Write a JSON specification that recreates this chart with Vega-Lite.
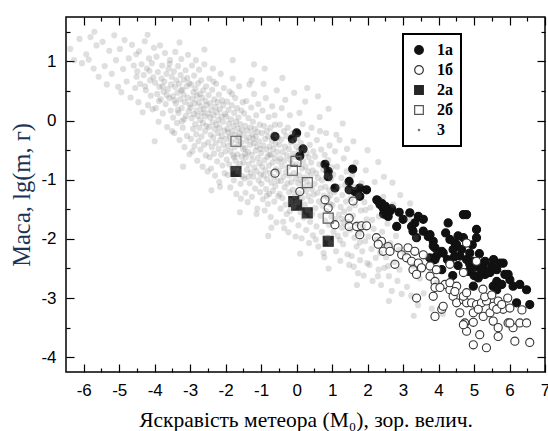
{
"$schema": "https://vega.github.io/schema/vega-lite/v6.json",
"width": 479, "height": 355,
"autosize": {"type": "none"},
"padding": {"left": 66, "top": 17, "right": 3, "bottom": 59},
"background": "white",
"config": {
 "view": {"stroke": "#000", "strokeWidth": 1.5},
 "axis": {"domain": false, "grid": false, "tickColor": "#000", "tickWidth": 1.2, "labelFont": "Liberation Sans", "labelFontSize": 17, "labelColor": "#000", "titleFont": "Liberation Serif", "titleFontSize": 21.5, "titleFontWeight": "normal", "titleColor": "#000", "labelFlush": false, "labelOverlap": false},
 "legend": {"orient": "none", "legendX": 337, "legendY": 17, "strokeColor": "#000", "strokeWidth": 2, "fillColor": "#fff", "padding": 8, "rowPadding": 4, "labelFont": "Liberation Serif", "labelFontWeight": "bold", "labelFontSize": 16, "labelColor": "#000", "symbolStrokeWidth": 1.2, "symbolSize": 75, "labelOffset": 10}
},
"datasets": {
"markers": [
{"x":-0.61,"y":-0.27,"g":"1а"},{"x":0.0,"y":-0.21,"g":"1а"},{"x":-0.12,"y":-0.31,"g":"1а"},{"x":0.18,"y":-0.48,"g":"1а"},{"x":0.09,"y":-0.6,"g":"1а"},{"x":0.8,"y":-0.74,"g":"1а"},{"x":0.89,"y":-0.86,"g":"1а"},{"x":0.89,"y":-0.95,"g":"1а"},{"x":1.08,"y":-1.14,"g":"1а"},{"x":1.48,"y":-1.03,"g":"1а"},{"x":1.48,"y":-1.17,"g":"1а"},{"x":1.58,"y":-0.82,"g":"1а"},{"x":1.64,"y":-1.2,"g":"1а"},{"x":1.78,"y":-1.14,"g":"1а"},{"x":1.97,"y":-1.17,"g":"1а"},{"x":1.78,"y":-1.28,"g":"1а"},{"x":2.26,"y":-1.34,"g":"1а"},{"x":2.3,"y":-1.36,"g":"1а"},{"x":2.4,"y":-1.4,"g":"1а"},{"x":2.35,"y":-1.42,"g":"1а"},{"x":2.44,"y":-1.48,"g":"1а"},{"x":2.5,"y":-1.45,"g":"1а"},{"x":2.63,"y":-1.53,"g":"1а"},{"x":2.68,"y":-1.49,"g":"1а"},{"x":2.89,"y":-1.55,"g":"1а"},{"x":2.58,"y":-1.62,"g":"1а"},{"x":2.45,"y":-1.58,"g":"1а"},{"x":3.19,"y":-1.56,"g":"1а"},{"x":3.0,"y":-1.67,"g":"1а"},{"x":3.43,"y":-1.62,"g":"1а"},{"x":3.57,"y":-1.67,"g":"1а"},{"x":3.33,"y":-1.73,"g":"1а"},{"x":3.24,"y":-1.79,"g":"1а"},{"x":2.82,"y":-1.79,"g":"1а"},{"x":3.28,"y":-1.87,"g":"1а"},{"x":3.57,"y":-1.87,"g":"1а"},{"x":3.38,"y":-1.98,"g":"1а"},{"x":3.71,"y":-1.96,"g":"1а"},{"x":3.76,"y":-1.93,"g":"1а"},{"x":3.85,"y":-2.04,"g":"1а"},{"x":3.9,"y":-2.15,"g":"1а"},{"x":3.75,"y":-2.32,"g":"1а"},{"x":3.94,"y":-2.29,"g":"1а"},{"x":4.27,"y":-1.73,"g":"1а"},{"x":4.7,"y":-1.59,"g":"1а"},{"x":4.79,"y":-1.59,"g":"1а"},{"x":5.07,"y":-1.84,"g":"1а"},{"x":5.07,"y":-1.98,"g":"1а"},{"x":3.85,"y":-2.12,"g":"1а"},{"x":4.32,"y":-2.01,"g":"1а"},{"x":4.46,"y":-2.07,"g":"1а"},{"x":4.51,"y":-2.1,"g":"1а"},{"x":4.7,"y":-1.98,"g":"1а"},{"x":4.41,"y":-2.18,"g":"1а"},{"x":4.6,"y":-2.29,"g":"1а"},{"x":4.79,"y":-2.35,"g":"1а"},{"x":4.09,"y":-2.52,"g":"1а"},{"x":4.32,"y":-2.41,"g":"1а"},{"x":4.88,"y":-2.43,"g":"1а"},{"x":5.02,"y":-2.47,"g":"1а"},{"x":5.26,"y":-2.49,"g":"1а"},{"x":5.31,"y":-2.6,"g":"1а"},{"x":5.12,"y":-2.66,"g":"1а"},{"x":5.45,"y":-2.57,"g":"1а"},{"x":5.64,"y":-2.52,"g":"1а"},{"x":5.82,"y":-2.41,"g":"1а"},{"x":5.87,"y":-2.6,"g":"1а"},{"x":6.01,"y":-2.69,"g":"1а"},{"x":5.64,"y":-2.72,"g":"1а"},{"x":4.98,"y":-2.8,"g":"1а"},{"x":5.54,"y":-2.8,"g":"1а"},{"x":5.64,"y":-2.86,"g":"1а"},{"x":6.1,"y":-2.8,"g":"1а"},{"x":6.29,"y":-2.77,"g":"1а"},{"x":6.48,"y":-2.86,"g":"1а"},{"x":6.2,"y":-3.08,"g":"1а"},{"x":6.57,"y":-3.11,"g":"1а"},{"x":4.09,"y":-2.21,"g":"1а"},{"x":3.9,"y":-2.35,"g":"1а"},{"x":4.13,"y":-2.24,"g":"1а"},{"x":4.88,"y":-2.24,"g":"1а"},{"x":4.98,"y":-2.38,"g":"1а"},{"x":5.21,"y":-2.43,"g":"1а"},{"x":5.31,"y":-2.38,"g":"1а"},{"x":5.5,"y":-2.46,"g":"1а"},{"x":5.73,"y":-2.41,"g":"1а"},{"x":5.96,"y":-2.6,"g":"1а"},{"x":5.78,"y":-2.77,"g":"1а"},{"x":5.4,"y":-2.57,"g":"1а"},{"x":4.45,"y":-2.3,"g":"1а"},{"x":4.55,"y":-2.45,"g":"1а"},{"x":4.65,"y":-2.18,"g":"1а"},{"x":4.85,"y":-2.55,"g":"1а"},{"x":5.15,"y":-2.25,"g":"1а"},{"x":5.2,"y":-2.55,"g":"1а"},{"x":4.4,"y":-2.62,"g":"1а"},{"x":5.0,"y":-2.62,"g":"1а"},{"x":5.55,"y":-2.35,"g":"1а"},{"x":4.95,"y":-2.1,"g":"1а"},{"x":4.25,"y":-2.35,"g":"1а"},{"x":4.2,"y":-1.9,"g":"1а"},{"x":4.55,"y":-1.95,"g":"1а"},
{"x":-0.61,"y":-0.89,"g":"1б"},{"x":0.09,"y":-1.2,"g":"1б"},{"x":0.8,"y":-1.34,"g":"1б"},{"x":0.89,"y":-1.48,"g":"1б"},{"x":1.08,"y":-1.76,"g":"1б"},{"x":1.48,"y":-1.65,"g":"1б"},{"x":1.48,"y":-1.79,"g":"1б"},{"x":1.59,"y":-1.36,"g":"1б"},{"x":1.69,"y":-1.79,"g":"1б"},{"x":1.83,"y":-1.78,"g":"1б"},{"x":1.97,"y":-1.78,"g":"1б"},{"x":1.78,"y":-1.93,"g":"1б"},{"x":2.25,"y":-1.98,"g":"1б"},{"x":2.39,"y":-2.04,"g":"1б"},{"x":2.3,"y":-2.09,"g":"1б"},{"x":2.58,"y":-2.13,"g":"1б"},{"x":2.44,"y":-2.21,"g":"1б"},{"x":2.63,"y":-2.21,"g":"1б"},{"x":2.86,"y":-2.15,"g":"1б"},{"x":2.96,"y":-2.27,"g":"1б"},{"x":3.14,"y":-2.15,"g":"1б"},{"x":3.1,"y":-2.32,"g":"1б"},{"x":3.33,"y":-2.21,"g":"1б"},{"x":3.24,"y":-2.38,"g":"1б"},{"x":2.77,"y":-2.43,"g":"1б"},{"x":3.43,"y":-2.41,"g":"1б"},{"x":3.52,"y":-2.49,"g":"1б"},{"x":3.76,"y":-2.46,"g":"1б"},{"x":3.28,"y":-2.52,"g":"1б"},{"x":3.38,"y":-2.6,"g":"1б"},{"x":3.76,"y":-2.63,"g":"1б"},{"x":3.9,"y":-2.72,"g":"1б"},{"x":3.94,"y":-2.52,"g":"1б"},{"x":3.57,"y":-2.27,"g":"1б"},{"x":3.9,"y":-2.82,"g":"1б"},{"x":4.18,"y":-2.77,"g":"1б"},{"x":4.32,"y":-2.86,"g":"1б"},{"x":4.41,"y":-2.97,"g":"1б"},{"x":3.38,"y":-3.0,"g":"1б"},{"x":4.09,"y":-3.19,"g":"1б"},{"x":3.9,"y":-3.31,"g":"1б"},{"x":4.51,"y":-3.08,"g":"1б"},{"x":4.7,"y":-3.03,"g":"1б"},{"x":4.79,"y":-3.08,"g":"1б"},{"x":4.6,"y":-3.25,"g":"1б"},{"x":4.93,"y":-3.08,"g":"1б"},{"x":5.07,"y":-3.11,"g":"1б"},{"x":5.21,"y":-3.08,"g":"1б"},{"x":4.98,"y":-3.25,"g":"1б"},{"x":5.12,"y":-3.19,"g":"1б"},{"x":5.26,"y":-3.31,"g":"1б"},{"x":5.45,"y":-3.25,"g":"1б"},{"x":5.35,"y":-3.05,"g":"1б"},{"x":5.54,"y":-3.14,"g":"1б"},{"x":5.68,"y":-3.05,"g":"1б"},{"x":5.82,"y":-3.19,"g":"1б"},{"x":5.54,"y":-3.39,"g":"1б"},{"x":5.68,"y":-3.5,"g":"1б"},{"x":4.74,"y":-3.42,"g":"1б"},{"x":4.79,"y":-3.56,"g":"1б"},{"x":5.96,"y":-3.42,"g":"1б"},{"x":6.1,"y":-3.5,"g":"1б"},{"x":6.29,"y":-3.42,"g":"1б"},{"x":6.48,"y":-3.42,"g":"1б"},{"x":5.16,"y":-3.62,"g":"1б"},{"x":5.68,"y":-3.65,"g":"1б"},{"x":4.98,"y":-3.79,"g":"1б"},{"x":5.35,"y":-3.84,"g":"1б"},{"x":6.15,"y":-3.73,"g":"1б"},{"x":6.57,"y":-3.75,"g":"1б"},{"x":4.79,"y":-2.07,"g":"1б"},{"x":5.07,"y":-2.38,"g":"1б"},{"x":4.7,"y":-2.57,"g":"1б"},{"x":4.32,"y":-2.43,"g":"1б"},{"x":4.32,"y":-2.74,"g":"1б"},{"x":4.51,"y":-2.8,"g":"1б"},{"x":4.04,"y":-2.82,"g":"1б"},{"x":4.46,"y":-2.89,"g":"1б"},{"x":4.7,"y":-2.97,"g":"1б"},{"x":4.79,"y":-2.91,"g":"1б"},{"x":5.3,"y":-2.98,"g":"1б"},{"x":5.64,"y":-3.19,"g":"1б"},{"x":5.78,"y":-3.11,"g":"1б"},{"x":6.01,"y":-3.17,"g":"1б"},{"x":3.85,"y":-2.97,"g":"1б"},{"x":4.13,"y":-3.14,"g":"1б"},{"x":4.7,"y":-3.45,"g":"1б"},{"x":4.98,"y":-3.41,"g":"1б"},{"x":6.01,"y":-3.42,"g":"1б"},{"x":5.25,"y":-2.85,"g":"1б"},{"x":5.5,"y":-2.95,"g":"1б"},{"x":6.35,"y":-3.2,"g":"1б"},{"x":5.95,"y":-3.0,"g":"1б"},
{"x":-1.71,"y":-0.86,"g":"2а"},{"x":-0.08,"y":-1.37,"g":"2а"},{"x":0.0,"y":-1.43,"g":"2а"},{"x":0.3,"y":-1.56,"g":"2а"},{"x":0.89,"y":-2.04,"g":"2а"},
{"x":-1.71,"y":-0.35,"g":"2б"},{"x":-0.02,"y":-0.69,"g":"2б"},{"x":-0.12,"y":-0.84,"g":"2б"},{"x":0.3,"y":-1.05,"g":"2б"},{"x":0.89,"y":-1.65,"g":"2б"}
],
"cloud": [
{"x":-6.38,"y":1.21},{"x":-6.12,"y":1.38},{"x":-6.05,"y":0.97},{"x":-6.27,"y":1.02},
{"x":-5.93,"y":1.12},{"x":-5.81,"y":1.41},{"x":-5.72,"y":0.88},{"x":-5.64,"y":1.27},{"x":-5.58,"y":0.74},{"x":-5.86,"y":1.03},
{"x":-5.47,"y":1.33},{"x":-5.41,"y":0.92},{"x":-5.35,"y":0.61},{"x":-5.28,"y":1.18},{"x":-5.21,"y":0.79},{"x":-5.14,"y":1.44},{"x":-5.09,"y":1.02},{"x":-5.03,"y":0.57},
{"x":-4.98,"y":1.21},{"x":-4.94,"y":0.48},{"x":-4.89,"y":0.87},{"x":-4.85,"y":1.36},{"x":-4.79,"y":0.66},{"x":-4.73,"y":1.05},{"x":-4.68,"y":0.39},{"x":-4.64,"y":1.28},{"x":-4.59,"y":0.93},{"x":-4.55,"y":0.55},{"x":-4.52,"y":1.12},{"x":-4.51,"y":0.74},
{"x":-4.49,"y":0.83},{"x":-4.46,"y":0.31},{"x":-4.44,"y":1.17},{"x":-4.41,"y":0.62},{"x":-4.37,"y":0.95},{"x":-4.34,"y":0.14},{"x":-4.31,"y":0.77},{"x":-4.28,"y":1.34},{"x":-4.25,"y":0.51},{"x":-4.22,"y":0.88},{"x":-4.19,"y":0.26},{"x":-4.16,"y":1.05},{"x":-4.13,"y":0.68},{"x":-4.11,"y":0.42},{"x":-4.08,"y":0.97},{"x":-4.06,"y":0.19},{"x":-4.04,"y":0.73},{"x":-4.02,"y":1.23},{"x":-4.27,"y":0.58},{"x":-4.15,"y":0.84},
{"x":-3.99,"y":0.64},{"x":-3.97,"y":0.21},{"x":-3.95,"y":1.08},{"x":-3.93,"y":0.45},{"x":-3.91,"y":0.82},{"x":-3.89,"y":-0.02},{"x":-3.87,"y":0.57},{"x":-3.85,"y":1.27},{"x":-3.83,"y":0.36},{"x":-3.81,"y":0.71},{"x":-3.79,"y":0.93},{"x":-3.77,"y":0.12},{"x":-3.75,"y":0.49},{"x":-3.73,"y":0.66},{"x":-3.71,"y":1.14},{"x":-3.69,"y":0.28},{"x":-3.67,"y":0.79},{"x":-3.65,"y":-0.11},{"x":-3.63,"y":0.53},{"x":-3.61,"y":0.88},{"x":-3.59,"y":0.38},{"x":-3.57,"y":1.02},{"x":-3.55,"y":0.17},{"x":-3.54,"y":0.61},{"x":-3.52,"y":0.74},{"x":-3.51,"y":-0.18},{"x":-3.66,"y":0.43},{"x":-3.78,"y":0.58},{"x":-3.88,"y":0.33},{"x":-3.58,"y":0.96},
{"x":-3.49,"y":0.41},{"x":-3.48,"y":0.05},{"x":-3.46,"y":0.83},{"x":-3.45,"y":-0.21},{"x":-3.43,"y":0.57},{"x":-3.42,"y":1.16},{"x":-3.4,"y":0.29},{"x":-3.39,"y":0.68},{"x":-3.37,"y":-0.04},{"x":-3.36,"y":0.47},{"x":-3.34,"y":0.92},{"x":-3.33,"y":0.13},{"x":-3.31,"y":0.62},{"x":-3.3,"y":-0.33},{"x":-3.28,"y":0.36},{"x":-3.27,"y":0.77},{"x":-3.25,"y":1.04},{"x":-3.24,"y":0.21},{"x":-3.22,"y":0.52},{"x":-3.21,"y":-0.12},{"x":-3.19,"y":0.44},{"x":-3.18,"y":0.69},{"x":-3.16,"y":-0.45},{"x":-3.15,"y":0.31},{"x":-3.13,"y":0.85},{"x":-3.12,"y":0.08},{"x":-3.1,"y":0.58},{"x":-3.09,"y":-0.26},{"x":-3.07,"y":0.39},{"x":-3.06,"y":1.11},{"x":-3.04,"y":0.16},{"x":-3.03,"y":0.63},{"x":-3.02,"y":-0.57},{"x":-3.01,"y":0.27},{"x":-3.44,"y":0.34},{"x":-3.35,"y":0.18},{"x":-3.26,"y":0.51},{"x":-3.17,"y":0.02},{"x":-3.08,"y":0.72},{"x":-3.23,"y":-0.01},
{"x":-2.99,"y":0.22},{"x":-2.98,"y":-0.31},{"x":-2.97,"y":0.61},{"x":-2.96,"y":0.04},{"x":-2.95,"y":0.93},{"x":-2.94,"y":-0.52},{"x":-2.93,"y":0.37},{"x":-2.92,"y":-0.14},{"x":-2.91,"y":0.48},{"x":-2.9,"y":0.11},{"x":-2.89,"y":0.76},{"x":-2.88,"y":-0.43},{"x":-2.87,"y":0.29},{"x":-2.86,"y":-0.06},{"x":-2.85,"y":0.54},{"x":-2.84,"y":1.02},{"x":-2.83,"y":-0.23},{"x":-2.82,"y":0.17},{"x":-2.81,"y":0.42},{"x":-2.8,"y":-0.68},{"x":-2.79,"y":0.08},{"x":-2.78,"y":0.63},{"x":-2.77,"y":-0.35},{"x":-2.76,"y":0.31},{"x":-2.75,"y":0.86},{"x":-2.74,"y":-0.12},{"x":-2.73,"y":0.45},{"x":-2.72,"y":0.01},{"x":-2.71,"y":-0.49},{"x":-2.7,"y":0.24},{"x":-2.69,"y":0.68},{"x":-2.68,"y":-0.27},{"x":-2.67,"y":0.13},{"x":-2.66,"y":0.39},{"x":-2.65,"y":-0.78},{"x":-2.64,"y":-0.04},{"x":-2.63,"y":0.51},{"x":-2.62,"y":0.19},{"x":-2.61,"y":-0.41},{"x":-2.6,"y":0.95},{"x":-2.59,"y":0.07},{"x":-2.58,"y":-0.18},{"x":-2.57,"y":0.33},{"x":-2.56,"y":-0.59},{"x":-2.55,"y":0.58},{"x":-2.54,"y":-0.09},{"x":-2.53,"y":0.26},{"x":-2.51,"y":-0.86},
{"x":-2.5,"y":0.12},{"x":-2.49,"y":-0.37},{"x":-2.48,"y":0.43},{"x":-2.47,"y":-0.11},{"x":-2.46,"y":0.71},{"x":-2.45,"y":-0.62},{"x":-2.44,"y":0.05},{"x":-2.43,"y":0.29},{"x":-2.42,"y":-0.24},{"x":-2.41,"y":-0.81},{"x":-2.4,"y":0.18},{"x":-2.39,"y":-0.45},{"x":-2.38,"y":0.52},{"x":-2.37,"y":-0.03},{"x":-2.36,"y":0.88},{"x":-2.35,"y":-0.29},{"x":-2.34,"y":0.09},{"x":-2.33,"y":-0.56},{"x":-2.32,"y":0.36},{"x":-2.31,"y":-0.14},{"x":-2.3,"y":-0.93},{"x":-2.29,"y":0.23},{"x":-2.28,"y":-0.38},{"x":-2.27,"y":0.62},{"x":-2.26,"y":-0.07},{"x":-2.25,"y":0.14},{"x":-2.24,"y":-0.69},{"x":-2.23,"y":0.31},{"x":-2.22,"y":-0.21},{"x":-2.21,"y":0.01},{"x":-2.2,"y":-0.48},{"x":-2.19,"y":0.44},{"x":-2.18,"y":-1.04},{"x":-2.17,"y":-0.12},{"x":-2.16,"y":0.19},{"x":-2.15,"y":-0.33},{"x":-2.14,"y":0.79},{"x":-2.13,"y":-0.58},{"x":-2.12,"y":0.07},{"x":-2.11,"y":-0.26},{"x":-2.1,"y":0.34},{"x":-2.09,"y":-0.76},{"x":-2.08,"y":-0.02},{"x":-2.07,"y":0.26},{"x":-2.06,"y":-0.41},{"x":-2.05,"y":0.55},{"x":-2.04,"y":-0.17},{"x":-2.03,"y":-0.89},{"x":-2.02,"y":0.11},{"x":-2.01,"y":-0.52},{"x":-2.34,"y":0.66},{"x":-2.16,"y":-1.12},
{"x":-1.99,"y":-0.31},{"x":-1.98,"y":0.07},{"x":-1.97,"y":-0.66},{"x":-1.96,"y":0.32},{"x":-1.95,"y":-0.14},{"x":-1.94,"y":-0.92},{"x":-1.93,"y":-0.43},{"x":-1.92,"y":0.18},{"x":-1.91,"y":-0.05},{"x":-1.9,"y":-0.74},{"x":-1.89,"y":0.49},{"x":-1.88,"y":-0.27},{"x":-1.87,"y":-1.13},{"x":-1.86,"y":-0.52},{"x":-1.85,"y":0.02},{"x":-1.84,"y":-0.36},{"x":-1.83,"y":0.26},{"x":-1.82,"y":-0.81},{"x":-1.81,"y":-0.18},{"x":-1.8,"y":0.71},{"x":-1.79,"y":-0.59},{"x":-1.78,"y":-0.09},{"x":-1.77,"y":-1.01},{"x":-1.76,"y":0.13},{"x":-1.75,"y":-0.45},{"x":-1.74,"y":-0.24},{"x":-1.73,"y":0.38},{"x":-1.72,"y":-0.68},{"x":-1.71,"y":-0.02},{"x":-1.7,"y":-1.24},{"x":-1.69,"y":-0.33},{"x":-1.68,"y":0.21},{"x":-1.67,"y":-0.57},{"x":-1.66,"y":-0.13},{"x":-1.65,"y":-0.86},{"x":-1.64,"y":0.05},{"x":-1.63,"y":-0.41},{"x":-1.62,"y":0.58},{"x":-1.61,"y":-0.21},{"x":-1.6,"y":-0.73},{"x":-1.59,"y":-0.06},{"x":-1.58,"y":-1.07},{"x":-1.57,"y":-0.37},{"x":-1.56,"y":0.17},{"x":-1.55,"y":-0.61},{"x":-1.54,"y":-0.16},{"x":-1.53,"y":-0.94},{"x":-1.52,"y":0.31},{"x":-1.51,"y":-0.48},{"x":-1.82,"y":0.45},{"x":-1.69,"y":-0.79},{"x":-1.57,"y":-1.32},{"x":-1.93,"y":-0.2},{"x":-1.76,"y":-0.62},{"x":-1.64,"y":-0.28},
{"x":-1.5,"y":-0.71},{"x":-1.49,"y":-0.25},{"x":-1.48,"y":0.12},{"x":-1.47,"y":-0.98},{"x":-1.46,"y":-0.46},{"x":-1.45,"y":-0.09},{"x":-1.44,"y":-1.22},{"x":-1.43,"y":-0.62},{"x":-1.42,"y":0.33},{"x":-1.41,"y":-0.34},{"x":-1.4,"y":-0.83},{"x":-1.39,"y":-0.17},{"x":-1.38,"y":-1.38},{"x":-1.37,"y":-0.53},{"x":-1.36,"y":0.04},{"x":-1.35,"y":-0.74},{"x":-1.34,"y":-0.29},{"x":-1.33,"y":0.61},{"x":-1.32,"y":-1.06},{"x":-1.31,"y":-0.41},{"x":-1.3,"y":-0.12},{"x":-1.29,"y":-0.88},{"x":-1.28,"y":0.22},{"x":-1.27,"y":-0.58},{"x":-1.26,"y":-1.29},{"x":-1.25,"y":-0.23},{"x":-1.24,"y":-0.67},{"x":-1.23,"y":-0.02},{"x":-1.22,"y":-0.95},{"x":-1.21,"y":-0.38},{"x":-1.2,"y":0.45},{"x":-1.19,"y":-0.79},{"x":-1.18,"y":-0.14},{"x":-1.17,"y":-1.15},{"x":-1.16,"y":-0.51},{"x":-1.15,"y":-0.27},{"x":-1.14,"y":0.09},{"x":-1.13,"y":-0.86},{"x":-1.12,"y":-0.44},{"x":-1.11,"y":-1.49},{"x":-1.1,"y":-0.19},{"x":-1.09,"y":-0.63},{"x":-1.08,"y":0.28},{"x":-1.07,"y":-1.01},{"x":-1.06,"y":-0.35},{"x":-1.05,"y":-0.72},{"x":-1.04,"y":-0.07},{"x":-1.03,"y":-1.21},{"x":-1.02,"y":-0.48},{"x":-1.01,"y":-0.91},{"x":-1.45,"y":-0.56},{"x":-1.27,"y":0.68},{"x":-1.13,"y":-1.58},{"x":-1.36,"y":-0.95},{"x":-1.22,"y":-0.31},
{"x":-1.0,"y":-0.55},{"x":-0.99,"y":-1.07},{"x":-0.98,"y":-0.21},{"x":-0.97,"y":-0.78},{"x":-0.96,"y":0.17},{"x":-0.95,"y":-1.33},{"x":-0.94,"y":-0.42},{"x":-0.93,"y":-0.93},{"x":-0.92,"y":-0.09},{"x":-0.91,"y":-0.67},{"x":-0.9,"y":-1.52},{"x":-0.89,"y":-0.31},{"x":-0.88,"y":-0.84},{"x":-0.87,"y":0.38},{"x":-0.86,"y":-1.16},{"x":-0.85,"y":-0.49},{"x":-0.84,"y":-0.18},{"x":-0.83,"y":-0.99},{"x":-0.82,"y":-0.61},{"x":-0.81,"y":-1.41},{"x":-0.8,"y":-0.27},{"x":-0.79,"y":0.06},{"x":-0.78,"y":-0.76},{"x":-0.77,"y":-1.24},{"x":-0.76,"y":-0.44},{"x":-0.75,"y":-0.89},{"x":-0.74,"y":-0.12},{"x":-0.73,"y":-1.63},{"x":-0.72,"y":-0.57},{"x":-0.71,"y":-1.05},{"x":-0.7,"y":-0.34},{"x":-0.69,"y":0.24},{"x":-0.68,"y":-0.71},{"x":-0.67,"y":-1.19},{"x":-0.66,"y":-0.48},{"x":-0.65,"y":-0.95},{"x":-0.64,"y":-0.23},{"x":-0.63,"y":-1.37},{"x":-0.62,"y":-0.63},{"x":-0.61,"y":-0.07},{"x":-0.6,"y":-1.11},{"x":-0.59,"y":-0.39},{"x":-0.58,"y":-0.82},{"x":-0.57,"y":-1.72},{"x":-0.56,"y":0.51},{"x":-0.55,"y":-0.53},{"x":-0.54,"y":-1.02},{"x":-0.53,"y":-0.29},{"x":-0.52,"y":-1.28},{"x":-0.51,"y":-0.69},{"x":-0.93,"y":0.62},{"x":-0.71,"y":-1.81},{"x":-0.84,"y":-1.27},{"x":-0.62,"y":0.09},{"x":-0.77,"y":-0.58},
{"x":-0.5,"y":-0.86},{"x":-0.49,"y":-0.41},{"x":-0.48,"y":-1.24},{"x":-0.47,"y":-0.07},{"x":-0.46,"y":-0.64},{"x":-0.45,"y":-1.49},{"x":-0.44,"y":-1.02},{"x":-0.43,"y":-0.32},{"x":-0.42,"y":0.21},{"x":-0.41,"y":-0.77},{"x":-0.4,"y":-1.31},{"x":-0.39,"y":-0.53},{"x":-0.38,"y":-1.71},{"x":-0.37,"y":-0.95},{"x":-0.36,"y":-0.18},{"x":-0.35,"y":-0.68},{"x":-0.34,"y":-1.13},{"x":-0.33,"y":-0.44},{"x":-0.32,"y":0.35},{"x":-0.31,"y":-1.42},{"x":-0.3,"y":-0.87},{"x":-0.29,"y":-0.26},{"x":-0.28,"y":-1.58},{"x":-0.27,"y":-0.59},{"x":-0.26,"y":-1.06},{"x":-0.25,"y":-0.12},{"x":-0.24,"y":-0.79},{"x":-0.23,"y":-1.89},{"x":-0.22,"y":-0.48},{"x":-0.21,"y":-1.21},{"x":-0.2,"y":-0.93},{"x":-0.19,"y":0.09},{"x":-0.18,"y":-0.66},{"x":-0.17,"y":-1.36},{"x":-0.16,"y":-0.37},{"x":-0.15,"y":-1.04},{"x":-0.14,"y":-1.67},{"x":-0.13,"y":-0.73},{"x":-0.12,"y":-0.21},{"x":-0.11,"y":-1.17},{"x":-0.1,"y":-0.56},{"x":-0.09,"y":-1.45},{"x":-0.08,"y":-0.89},{"x":-0.07,"y":0.47},{"x":-0.06,"y":-0.33},{"x":-0.05,"y":-1.27},{"x":-0.04,"y":-0.61},{"x":-0.03,"y":-1.96},{"x":-0.02,"y":-0.98},{"x":-0.01,"y":-0.44},{"x":-0.35,"y":-1.82},{"x":-0.19,"y":-1.53},
{"x":0.01,"y":-0.74},{"x":0.02,"y":-1.38},{"x":0.03,"y":-0.29},{"x":0.04,"y":-1.06},{"x":0.05,"y":-1.77},{"x":0.06,"y":-0.51},{"x":0.07,"y":-0.92},{"x":0.08,"y":0.13},{"x":0.09,"y":-1.23},{"x":0.1,"y":-0.63},{"x":0.11,"y":-1.55},{"x":0.12,"y":-0.38},{"x":0.13,"y":-1.01},{"x":0.14,"y":-1.99},{"x":0.15,"y":-0.81},{"x":0.16,"y":-1.31},{"x":0.17,"y":-0.06},{"x":0.18,"y":-0.69},{"x":0.19,"y":-1.12},{"x":0.2,"y":-1.64},{"x":0.21,"y":-0.47},{"x":0.22,"y":-0.96},{"x":0.23,"y":-1.42},{"x":0.24,"y":0.32},{"x":0.25,"y":-0.78},{"x":0.26,"y":-1.19},{"x":0.27,"y":-1.85},{"x":0.28,"y":-0.55},{"x":0.29,"y":-1.03},{"x":0.3,"y":-0.24},{"x":0.31,"y":-1.51},{"x":0.32,"y":-0.86},{"x":0.33,"y":-1.28},{"x":0.34,"y":-0.62},{"x":0.35,"y":-2.07},{"x":0.36,"y":-1.09},{"x":0.37,"y":-0.41},{"x":0.38,"y":-1.71},{"x":0.39,"y":-0.93},{"x":0.4,"y":-1.36},{"x":0.41,"y":-0.71},{"x":0.42,"y":-0.12},{"x":0.43,"y":-1.16},{"x":0.44,"y":-1.58},{"x":0.45,"y":-0.84},{"x":0.46,"y":-1.94},{"x":0.47,"y":-0.52},{"x":0.48,"y":-1.25},
{"x":0.51,"y":-1.07},{"x":0.52,"y":-0.61},{"x":0.53,"y":-1.48},{"x":0.55,"y":-0.89},{"x":0.56,"y":-1.79},{"x":0.57,"y":-0.33},{"x":0.59,"y":-1.22},{"x":0.6,"y":-0.97},{"x":0.61,"y":-2.13},{"x":0.63,"y":-1.37},{"x":0.64,"y":-0.74},{"x":0.65,"y":0.06},{"x":0.67,"y":-1.61},{"x":0.68,"y":-1.14},{"x":0.69,"y":-0.49},{"x":0.71,"y":-1.88},{"x":0.72,"y":-1.01},{"x":0.73,"y":-1.44},{"x":0.75,"y":-0.83},{"x":0.76,"y":-2.24},{"x":0.77,"y":-1.27},{"x":0.79,"y":-0.58},{"x":0.8,"y":-1.69},{"x":0.81,"y":-1.12},{"x":0.83,"y":-0.21},{"x":0.84,"y":-1.53},{"x":0.85,"y":-0.93},{"x":0.87,"y":-1.98},{"x":0.88,"y":-1.31},{"x":0.89,"y":-0.67},{"x":0.91,"y":-1.76},{"x":0.92,"y":-1.18},{"x":0.93,"y":-0.42},{"x":0.95,"y":-1.41},{"x":0.96,"y":-2.07},{"x":0.97,"y":-0.99},{"x":0.98,"y":-1.62},{"x":0.99,"y":-0.79},{"x":0.54,"y":-2.01},{"x":0.66,"y":-0.18},{"x":0.78,"y":-2.31},{"x":0.94,"y":-1.27},
{"x":1.01,"y":-1.43},{"x":1.03,"y":-0.91},{"x":1.04,"y":-1.88},{"x":1.06,"y":-1.21},{"x":1.08,"y":-0.52},{"x":1.09,"y":-1.67},{"x":1.11,"y":-2.21},{"x":1.13,"y":-1.34},{"x":1.14,"y":-0.78},{"x":1.16,"y":-1.95},{"x":1.18,"y":-1.12},{"x":1.19,"y":-1.59},{"x":1.21,"y":-0.33},{"x":1.23,"y":-2.37},{"x":1.24,"y":-1.46},{"x":1.26,"y":-0.97},{"x":1.28,"y":-1.81},{"x":1.29,"y":-1.26},{"x":1.31,"y":-2.09},{"x":1.33,"y":-0.64},{"x":1.34,"y":-1.54},{"x":1.36,"y":-1.09},{"x":1.38,"y":-1.92},{"x":1.39,"y":-1.37},{"x":1.41,"y":-0.86},{"x":1.43,"y":-2.26},{"x":1.44,"y":-1.71},{"x":1.46,"y":-1.18},{"x":1.48,"y":-2.44},{"x":1.49,"y":-1.49},{"x":1.12,"y":-0.24},{"x":1.22,"y":-2.02},{"x":1.32,"y":-1.72},{"x":1.42,"y":-0.48},{"x":1.27,"y":-1.66},
{"x":1.51,"y":-1.84},{"x":1.53,"y":-1.32},{"x":1.55,"y":-2.29},{"x":1.57,"y":-0.92},{"x":1.59,"y":-1.61},{"x":1.61,"y":-2.47},{"x":1.63,"y":-1.98},{"x":1.65,"y":-1.43},{"x":1.67,"y":-0.71},{"x":1.69,"y":-2.13},{"x":1.71,"y":-1.74},{"x":1.73,"y":-2.58},{"x":1.75,"y":-1.27},{"x":1.77,"y":-1.91},{"x":1.79,"y":-2.36},{"x":1.81,"y":-1.52},{"x":1.83,"y":-1.06},{"x":1.85,"y":-2.21},{"x":1.87,"y":-1.79},{"x":1.89,"y":-2.62},{"x":1.91,"y":-1.38},{"x":1.93,"y":-2.04},{"x":1.95,"y":-0.84},{"x":1.97,"y":-1.67},{"x":1.99,"y":-2.41},{"x":1.62,"y":-1.12},{"x":1.78,"y":-2.06},{"x":1.94,"y":-1.51},
{"x":2.02,"y":-1.96},{"x":2.05,"y":-2.44},{"x":2.08,"y":-1.47},{"x":2.11,"y":-2.17},{"x":2.14,"y":-2.71},{"x":2.17,"y":-1.83},{"x":2.2,"y":-1.04},{"x":2.23,"y":-2.32},{"x":2.26,"y":-2.01},{"x":2.29,"y":-2.63},{"x":2.32,"y":-1.62},{"x":2.35,"y":-2.24},{"x":2.38,"y":-2.78},{"x":2.41,"y":-1.88},{"x":2.44,"y":-1.29},{"x":2.47,"y":-2.49},{"x":2.49,"y":-2.12},{"x":2.13,"y":-1.68},{"x":2.31,"y":-2.52},{"x":2.46,"y":-0.95},
{"x":2.52,"y":-2.31},{"x":2.56,"y":-1.74},{"x":2.6,"y":-2.63},{"x":2.64,"y":-2.07},{"x":2.68,"y":-2.88},{"x":2.72,"y":-1.42},{"x":2.76,"y":-2.39},{"x":2.8,"y":-1.95},{"x":2.84,"y":-2.71},{"x":2.88,"y":-2.19},{"x":2.92,"y":-1.26},{"x":2.96,"y":-2.93},{"x":2.58,"y":-2.46},{"x":2.9,"y":-2.52},
{"x":3.04,"y":-2.24},{"x":3.11,"y":-2.81},{"x":3.17,"y":-1.67},{"x":3.23,"y":-2.96},{"x":3.29,"y":-2.46},{"x":3.36,"y":-1.98},{"x":3.42,"y":-3.12},{"x":3.47,"y":-2.67},
{"x":3.58,"y":-2.92},{"x":3.69,"y":-2.31},{"x":3.81,"y":-3.18},{"x":3.95,"y":-2.74},{"x":4.12,"y":-3.27},
{"x":-1.2,"y":0.95},{"x":-0.4,"y":0.72},{"x":0.3,"y":0.55},{"x":0.9,"y":0.2},{"x":1.6,"y":-0.35},{"x":2.3,"y":-0.7},{"x":2.7,"y":-1.05},{"x":-2.6,"y":1.2},{"x":-3.3,"y":1.32},{"x":-4.2,"y":1.45},{"x":-5.7,"y":1.5},{"x":0.6,"y":0.41},{"x":1.3,"y":-0.05},{"x":-1.8,"y":1.02},{"x":2.0,"y":-0.5},{"x":3.2,"y":-1.4},{"x":-0.9,"y":0.88},
{"x":-3.2,"y":-0.78},{"x":-2.4,"y":-1.18},{"x":-1.6,"y":-1.55},{"x":-0.8,"y":-1.95},{"x":0.1,"y":-2.25},{"x":0.9,"y":-2.5},{"x":1.7,"y":-2.78},{"x":2.6,"y":-3.05},{"x":-4.0,"y":-0.35},{"x":3.3,"y":-3.3}
]
},
"layer": [
 {
  "data": {"name": "markers"},
  "mark": {"type": "point", "opacity": 1, "strokeWidth": 1.1},
  "encoding": {
   "x": {"field": "x", "type": "quantitative", "scale": {"domain": [-6.5, 7], "nice": false, "zero": false},
     "axis": {"orient": "bottom", "values": [-6,-5.5,-5,-4.5,-4,-3.5,-3,-2.5,-2,-1.5,-1,-0.5,0,0.5,1,1.5,2,2.5,3,3.5,4,4.5,5,5.5,6,6.5,7],
       "labelExpr": "datum.value % 1 === 0 ? '' + datum.value : ''",
       "tickSize": {"condition": {"test": "datum.value % 1 !== 0", "value": -4}, "value": -8},
       "labelPadding": 18, "title": "Яскравість метеора (M₀), зор. велич.", "titlePadding": 7}},
   "y": {"field": "y", "type": "quantitative", "scale": {"domain": [-4.25, 1.75], "nice": false, "zero": false},
     "axis": {"orient": "left", "values": [-4,-3.5,-3,-2.5,-2,-1.5,-1,-0.5,0,0.5,1,1.5],
       "labelExpr": "datum.value % 1 === 0 ? '' + datum.value : ''",
       "tickSize": {"condition": {"test": "datum.value % 1 !== 0", "value": -4}, "value": -8},
       "labelPadding": 18, "title": "Маса, lg(m, г)", "titleColor": "#1c3355", "titleFontSize": 24.5, "titlePadding": 6}},
   "shape": {"field": "g", "type": "nominal", "scale": {"domain": ["1а","1б","2а","2б","3"], "range": ["circle","circle","square","square","M0,-0.16A0.16,0.16 0 1 1 0,0.16A0.16,0.16 0 1 1 0,-0.16Z"]},
     "legend": {"title": null}},
   "fill": {"field": "g", "type": "nominal", "scale": {"domain": ["1а","1б","2а","2б","3"], "range": ["#111111","#ffffff","#262626","transparent","#777777"]},
     "legend": {"title": null}},
   "stroke": {"field": "g", "type": "nominal", "scale": {"domain": ["1а","1б","2а","2б","3"], "range": ["#111111","#333333","#262626","#555555","#777777"]},
     "legend": {"title": null}},
   "size": {"condition": {"test": "datum.g === '2а' || datum.g === '2б'", "value": 100}, "value": 66}
  }
 },
 {
  "data": {"name": "cloud"},
  "mark": {"type": "point", "filled": true, "shape": "circle", "size": 38, "color": "#7a7a7a", "opacity": 0.24, "strokeWidth": 0},
  "encoding": {
   "x": {"field": "x", "type": "quantitative", "scale": {"domain": [-6.5, 7], "nice": false, "zero": false},
     "axis": {"orient": "top", "values": [-6,-5.5,-5,-4.5,-4,-3.5,-3,-2.5,-2,-1.5,-1,-0.5,0,0.5,1,1.5,2,2.5,3,3.5,4,4.5,5,5.5,6,6.5,7],
       "labels": false, "title": null,
       "tickSize": {"condition": {"test": "datum.value % 1 !== 0", "value": -4}, "value": -8}}},
   "y": {"field": "y", "type": "quantitative", "scale": {"domain": [-4.25, 1.75], "nice": false, "zero": false},
     "axis": {"orient": "right", "values": [-4,-3.5,-3,-2.5,-2,-1.5,-1,-0.5,0,0.5,1,1.5],
       "labels": false, "title": null,
       "tickSize": {"condition": {"test": "datum.value % 1 !== 0", "value": -4}, "value": -8}}}
  }
 }
],
"resolve": {"axis": {"x": "independent", "y": "independent"}}
}
